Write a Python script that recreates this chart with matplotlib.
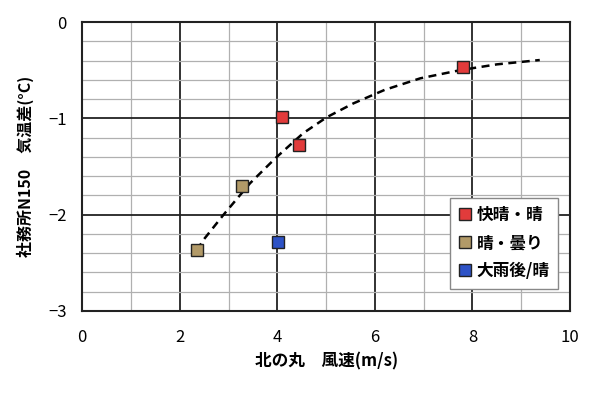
import matplotlib.pyplot as plt
from matplotlib.ticker import MultipleLocator

plt.rcParams["font.family"] = ["Noto Sans CJK JP", "DejaVu Sans"]

# data
clear_x = [4.10, 4.45, 7.80]
clear_y = [-0.99, -1.28, -0.47]
cloudy_x = [3.27, 2.35]
cloudy_y = [-1.70, -2.37]
rain_x = [4.02]
rain_y = [-2.28]

# dashed trend curve
trend_x = [2.35, 2.49, 2.90, 3.44, 3.97, 4.53, 5.01, 5.56, 6.20, 6.93, 7.75, 8.50, 9.38]
trend_y = [-2.37, -2.26, -2.00, -1.675, -1.41, -1.155, -0.99, -0.845, -0.705,
           -0.585, -0.50, -0.44, -0.395]

series = [
    ("快晴・晴", clear_x, clear_y, "#e23b3b"),
    ("晴・曇り", cloudy_x, cloudy_y, "#b29a68"),
    ("大雨後/晴", rain_x, rain_y, "#2d52c6"),
]

fig = plt.figure(figsize=(6.0, 3.93), dpi=100)
ax = fig.add_axes([0.137, 0.209, 0.813, 0.735])

ax.plot(trend_x, trend_y, color="black", linestyle=(0, (3.2, 2.2)), linewidth=1.8, zorder=3)

for label, xs, ys, color in series:
    ax.plot(xs, ys, linestyle="none", marker="s", markersize=9,
            markerfacecolor=color, markeredgecolor="#222222", markeredgewidth=1.0,
            label=label, zorder=4)

ax.set_xlim(0, 10)
ax.set_ylim(-3, 0)
ax.xaxis.set_major_locator(MultipleLocator(2))
ax.xaxis.set_minor_locator(MultipleLocator(1))
ax.yaxis.set_major_locator(MultipleLocator(1))
ax.yaxis.set_minor_locator(MultipleLocator(0.2))
ax.grid(which="major", color="#222222", linewidth=1.3)
ax.grid(which="minor", color="#b0b0b0", linewidth=0.9)
ax.set_axisbelow(True)
ax.tick_params(which="both", length=0)
ax.tick_params(axis="x", pad=13, labelsize=12)
ax.tick_params(axis="y", pad=11, labelsize=12)
for sp in ax.spines.values():
    sp.set_color("#222222")
    sp.set_linewidth(1.5)

ax.set_xlabel("北の丸　風速(m/s)", fontsize=12, fontweight="bold", labelpad=5)
ax.set_ylabel("社務所N150　気温差(°C)", fontsize=11.5, fontweight="bold", labelpad=10)

leg = ax.legend(loc="lower right", bbox_to_anchor=(0.992, 0.048), fancybox=False,
                framealpha=1, edgecolor="#888888", handlelength=0.8,
                handletextpad=0.3, borderpad=0.5, labelspacing=0.6,
                prop={"weight": "bold", "size": 12})
leg.get_frame().set_linewidth(1.0)

fig.savefig("out.png", dpi=100)
